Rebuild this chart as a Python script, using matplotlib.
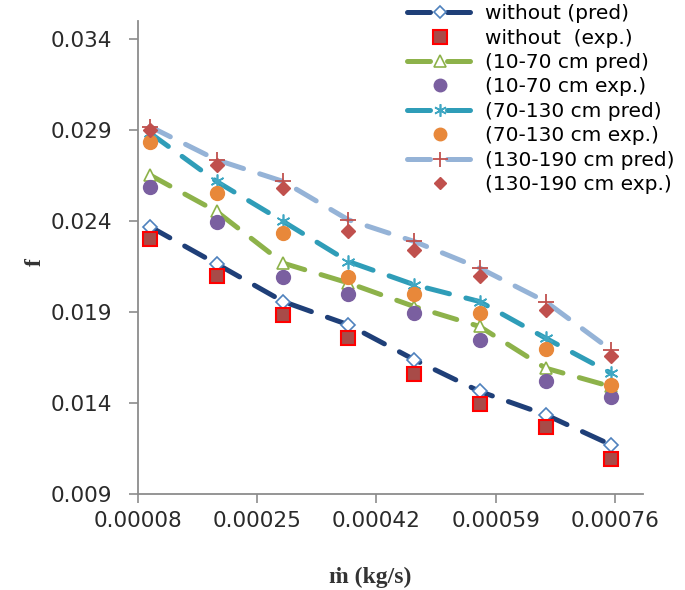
import matplotlib
matplotlib.use("Agg")
import matplotlib.pyplot as plt

# mass flow rate (kg/s)
m_dot = [0.0000967, 0.000192, 0.000287, 0.00038, 0.000474, 0.000567, 0.000661, 0.000754]

# friction factor, prediction and experiment for each insert section
without_pred = [0.0237, 0.02165, 0.01958, 0.0183, 0.01638, 0.01464, 0.01336, 0.01171]
without_exp = [0.02301, 0.02096, 0.01885, 0.01757, 0.01559, 0.01396, 0.01266, 0.01094]
s10_70_pred = [0.02654, 0.02453, 0.02169, 0.0206, 0.0193, 0.01821, 0.01592, 0.01491]
s10_70_exp = [0.0259, 0.02395, 0.02092, 0.0200, 0.01895, 0.01744, 0.01523, 0.01431]
s70_130_pred = [0.02885, 0.02618, 0.02398, 0.02178, 0.0205, 0.01958, 0.01757, 0.01565]
s70_130_exp = [0.02834, 0.02557, 0.02337, 0.02092, 0.0200, 0.01895, 0.01697, 0.01501]
s130_190_pred = [0.0292, 0.02737, 0.02618, 0.02407, 0.02288, 0.02142, 0.01958, 0.01693]
s130_190_exp = [0.0290, 0.02706, 0.02581, 0.02347, 0.02242, 0.02101, 0.01909, 0.01656]

x_ticks = [0.00008, 0.00025, 0.00042, 0.00059, 0.00076]
y_ticks = [0.009, 0.014, 0.019, 0.024, 0.029, 0.034]

fig = plt.figure(figsize=(6.85, 5.9), dpi=100)
ax = fig.add_axes([0.2015, 0.1627, 0.7372, 0.8017])

dash = dict(lw=3.6, ls=(0, (4.6, 3.4)), dash_capstyle="round")

ax.plot(m_dot, without_pred, color="#1F3F78", marker="D", ms=7, mfc="white",
        mec="#4F81BD", mew=1.2, label="without (pred)", **dash)
ax.plot(m_dot, without_exp, ls="none", marker="s", ms=10.5, mfc="#A84B48",
        mec="#FF0000", mew=1.5, label="without  (exp.)")
ax.plot(m_dot, s10_70_pred, color="#8DB24A", marker="^", ms=9, mfc="white",
        mec="#8DB24A", mew=1.2, label="(10-70 cm pred)", **dash)
ax.plot(m_dot, s10_70_exp, ls="none", marker="o", ms=10, mfc="#7A5FA0",
        mec="#7A5FA0", label="(10-70 cm exp.)")
ax.plot(m_dot, s70_130_pred, color="#2F9DB8", marker=(6, 2, 0), ms=10,
        mec="#3FA7C3", mew=1.2, label="(70-130 cm pred)", **dash)
ax.plot(m_dot, s70_130_exp, ls="none", marker="o", ms=10, mfc="#E8883A",
        mec="#E8883A", label="(70-130 cm exp.)")
ax.plot(m_dot, s130_190_pred, color="#95B3D7", marker="+", ms=12,
        mec="#C0504D", mew=1.3, label="(130-190 cm pred)", **dash)
ax.plot(m_dot, s130_190_exp, ls="none", marker="D", ms=7, mfc="#C0504D",
        mec="#C0504D", label="(130-190 cm exp.)")

ax.set_xlim(0.00008, 0.0008)
ax.set_ylim(0.009, 0.035)
ax.set_xticks(x_ticks)
ax.set_xticklabels([f"{v:.5f}" for v in x_ticks])
ax.set_yticks(y_ticks)
ax.set_yticklabels([f"{v:.3f}" for v in y_ticks])

for side in ["top", "right"]:
    ax.spines[side].set_visible(False)
for side in ["left", "bottom"]:
    ax.spines[side].set_color("#8C8C8C")
    ax.spines[side].set_linewidth(1.3)
ax.tick_params(direction="out", length=6.5, width=1.2, color="#8C8C8C",
               labelsize=15.5, labelcolor="#2A2A2A")
ax.tick_params(axis="x", pad=6)
ax.tick_params(axis="y", pad=12)

serif = ["Liberation Serif", "DejaVu Serif"]
fig.text(370 / 685, 1 - 577 / 590, "ṁ (kg/s)", fontsize=17, fontweight="bold",
         family=serif, color="#333333", ha="center", va="center")
fig.text(35 / 685, 1 - 262 / 590, "f", fontsize=17, fontweight="bold",
         family=serif, color="#333333", ha="center", va="center", rotation=90)

fig.legend(loc="upper right", bbox_to_anchor=(1.0, 1.01), frameon=False,
           fontsize=14.5, handlelength=3.3, labelspacing=0.27,
           handletextpad=0.6, borderaxespad=0.1, markerscale=0.9)

fig.savefig("out.png", dpi=100)
